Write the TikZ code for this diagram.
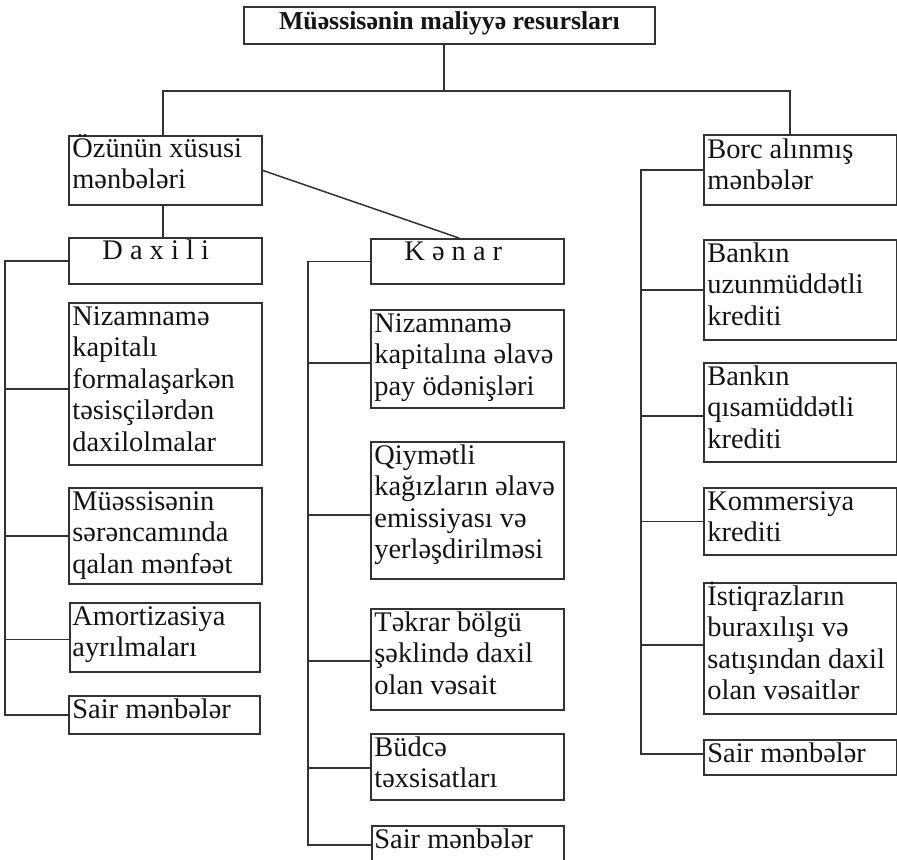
\documentclass[tikz,border=0pt]{standalone}
\usepackage{fontspec}
\setmainfont{Liberation Serif}
\usetikzlibrary{calc}
\tikzset{
  box/.style={draw=black!80, line width=0.9pt, rectangle, inner sep=0pt, anchor=north west},
  sz/.style 2 args={minimum width=#1*0.5pt, minimum height=#2*0.5pt},
  txt/.style={inner sep=0pt, anchor=base west, text=black!92, font=\fontsize{14.2}{15.8}\selectfont},
  conn/.style={draw=black!80, line width=0.75pt},
}
\newcommand\lns[1]{\parbox[t]{150pt}{\raggedright #1}}
\begin{document}
\begin{tikzpicture}[x=0.5pt,y=-0.5pt]
\useasboundingbox (0,0) rectangle (897,859);
\clip (0,0) rectangle (897,859);
% boxes
\node[box, sz={411}{37}] (top) at (243,6) {};
\node[box, sz={193}{69}] (ozunun) at (68,135) {};
\node[box, sz={193}{46}] (daxili) at (68,237) {};
\node[box, sz={193}{45}] (kenar) at (370,238) {};
\node[box, sz={193}{70}] (borc) at (703,134) {};
\node[box, sz={193}{162}] (d1) at (68,302) {};
\node[box, sz={193}{96}] (d2) at (68,487) {};
\node[box, sz={190}{69}] (d3) at (69,602) {};
\node[box, sz={191}{38}] (d4) at (68,695) {};
\node[box, sz={193}{98}] (k1) at (370,309) {};
\node[box, sz={193}{137}] (k2) at (370,441) {};
\node[box, sz={193}{101}] (k3) at (370,608) {};
\node[box, sz={193}{66}] (k4) at (370,733) {};
\node[box, sz={192}{38}] (k5) at (371,825) {};
\node[box, sz={193}{100}] (b1) at (703,239) {};
\node[box, sz={193}{99}] (b2) at (703,362) {};
\node[box, sz={193}{67}] (b3) at (703,487) {};
\node[box, sz={193}{131}] (b4) at (703,582) {};
\node[box, sz={193}{35}] (b5) at (703,739) {};
% texts
\node[txt, anchor=base, font=\fontsize{12.9}{14}\selectfont\bfseries] (topt) at ($(top.north)+(0,23)$) {Müəssisənin maliyyə resursları};
\node[txt] (ozununt) at ($(ozunun.north west)+(4,22)$) {\lns{Özünün xüsusi\\mənbələri}};
\node[txt] (daxilit) at ($(daxili.north west)+(34,22)$) {D a x i l i};
\node[txt] (kenart) at ($(kenar.north west)+(34,22)$) {K ə n a r};
\node[txt] (borct) at ($(borc.north west)+(4,24)$) {\lns{Borc alınmış\\mənbələr}};
\node[txt] (d1t) at ($(d1.north west)+(4,23)$) {\lns{Nizamnamə\\kapitalı\\formalaşarkən\\təsisçilərdən\\daxilolmalar}};
\node[txt] (d2t) at ($(d2.north west)+(4,23)$) {\lns{Müəssisənin\\sərəncamında\\qalan mənfəət}};
\node[txt] (d3t) at ($(d3.north west)+(3,23)$) {\lns{Amortizasiya\\ayrılmaları}};
\node[txt] (d4t) at ($(d4.north west)+(4,23)$) {Sair mənbələr};
\node[txt] (k1t) at ($(k1.north west)+(4,23)$) {\lns{Nizamnamə\\kapitalına əlavə\\pay ödənişləri}};
\node[txt] (k2t) at ($(k2.north west)+(4,23)$) {\lns{Qiymətli\\kağızların əlavə\\emissiyası və\\yerləşdirilməsi}};
\node[txt] (k3t) at ($(k3.north west)+(4,23)$) {\lns{Təkrar bölgü\\şəklində daxil\\olan vəsait}};
\node[txt] (k4t) at ($(k4.north west)+(4,23)$) {\lns{Büdcə\\təxsisatları}};
\node[txt] (k5t) at ($(k5.north west)+(3,23)$) {Sair mənbələr};
\node[txt] (b1t) at ($(b1.north west)+(4,23)$) {\lns{Bankın\\uzunmüddətli\\krediti}};
\node[txt] (b2t) at ($(b2.north west)+(4,23)$) {\lns{Bankın\\qısamüddətli\\krediti}};
\node[txt] (b3t) at ($(b3.north west)+(4,23)$) {\lns{Kommersiya\\krediti}};
\node[txt] (b4t) at ($(b4.north west)+(4,23)$) {\lns{İstiqrazların\\buraxılışı və\\satışından daxil\\olan vəsaitlər}};
\node[txt] (b5t) at ($(b5.north west)+(4,23)$) {Sair mənbələr};
% top connectors
\coordinate (j) at (444,91);
\coordinate (jl) at (163,91);
\coordinate (jr) at (790,91);
\draw[conn] (j |- top.south) -- (j);
\draw[conn] (jl |- ozunun.north) -- (jl) -- (jr) -- (jr |- borc.north);
\draw[conn] (jl |- ozunun.south) -- (jl |- daxili.north);
\draw[conn] (ozunun.east) -- ($(kenar.north west)+(89,0)$);
% Daxili bracket
\coordinate (dl) at (5,0);
\draw[conn] (daxili.west) -- (daxili.west -| dl) -- (d4.west -| dl) -- (d4.west);
\draw[conn] ([yshift=-2.5pt]d1.west) -- ([yshift=-2.5pt]d1.west -| dl);
\draw[conn] (d2.west) -- (d2.west -| dl);
\draw[conn] ([yshift=-1pt]d3.west) -- ([yshift=-1pt]d3.west -| dl);
% Kenar bracket
\coordinate (kl) at (308,0);
\draw[conn] (kenar.west) -- (kenar.west -| kl) -- (k5.west -| kl) -- (k5.west);
\draw[conn] ([yshift=-2pt]k1.west) -- ([yshift=-2pt]k1.west -| kl);
\draw[conn] ([yshift=-2.25pt]k2.west) -- ([yshift=-2.25pt]k2.west -| kl);
\draw[conn] ([yshift=-0.75pt]k3.west) -- ([yshift=-0.75pt]k3.west -| kl);
\draw[conn] ([yshift=-0.5pt]k4.west) -- ([yshift=-0.5pt]k4.west -| kl);
% Borc bracket
\coordinate (bl) at (641,0);
\draw[conn] (borc.west) -- (borc.west -| bl) -- ([yshift=1.75pt]b5.west -| bl) -- ([yshift=1.75pt]b5.west);
\draw[conn] (b1.west) -- (b1.west -| bl);
\draw[conn] ([yshift=-1.75pt]b2.west) -- ([yshift=-1.75pt]b2.west -| bl);
\draw[conn] (b3.west) -- (b3.west -| bl);
\draw[conn] ([yshift=1.75pt]b4.west) -- ([yshift=1.75pt]b4.west -| bl);
\end{tikzpicture}
\end{document}
